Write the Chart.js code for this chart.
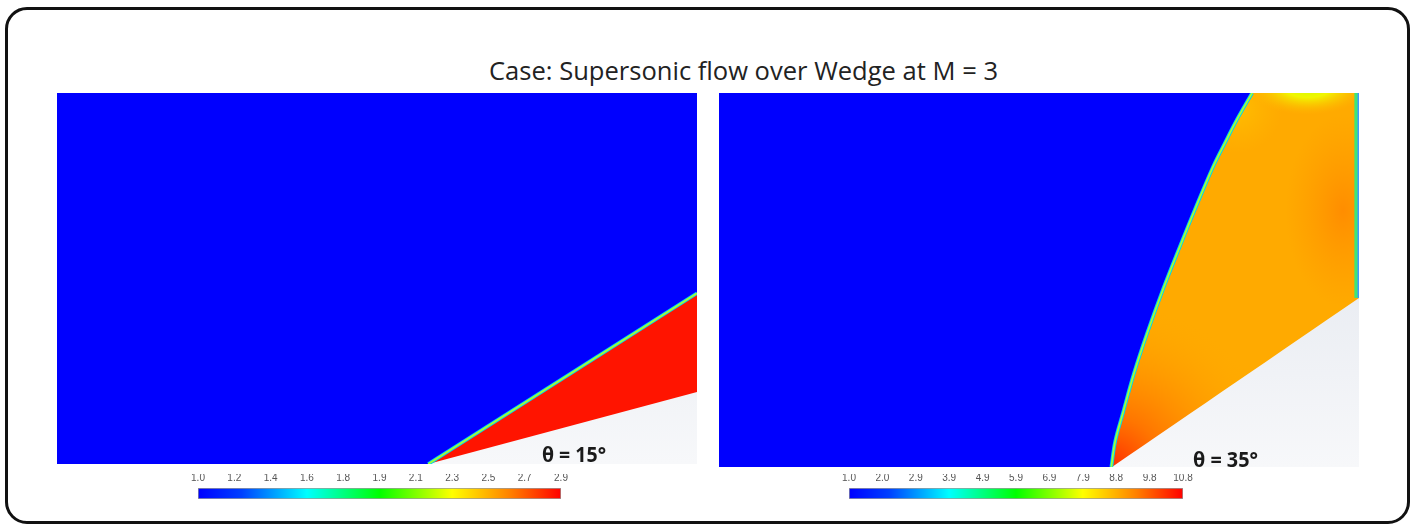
<!DOCTYPE html>
<html>
<head>
<meta charset="utf-8">
<title>Supersonic flow over Wedge at M = 3</title>
<script src="https://cdn.jsdelivr.net/npm/chart.js@4.4.1/dist/chart.umd.min.js"></script>
<style>
  body { margin: 0; background: #fff; }
  #page { position: relative; width: 1415px; height: 530px; overflow: hidden; }
  #frame { position: absolute; left: 5px; top: 7px; width: 1399px; height: 511px; border: 3px solid #111; border-radius: 22px; }
  #title { position: absolute; left: 489px; top: 52px; font: 26px 'Open Sans', sans-serif; color: #222; white-space: nowrap; transform-origin: 0 0; line-height: 36px; }
  .theta { position: absolute; font: bold 22px 'Open Sans', sans-serif; color: #1a1a1a; white-space: nowrap; transform-origin: 0 0; line-height: 24px; }
  canvas { position: absolute; }
</style>
</head>
<body>
<div id="page">
  <div id="frame"></div>
  <div id="title">Case: Supersonic flow over Wedge at M = 3</div>
  <canvas id="leftPanel" width="640" height="371" style="left:57px;top:93px"></canvas>
  <canvas id="rightPanel" width="640" height="374" style="left:719px;top:93px"></canvas>
  <canvas id="leftBar" width="391" height="50" style="left:184px;top:474px"></canvas>
  <canvas id="rightBar" width="362" height="50" style="left:835px;top:474px"></canvas>
  <div class="theta" id="thetaLeft" style="left:542px;top:441px">θ = 15°</div>
  <div class="theta" id="thetaRight" style="left:1193px;top:446px">θ = 35°</div>
</div>
<script>
// domain coordinates (x: 0..1 along the panel, y in the same units)
const leftTop = 0.58;
const leftWedge = [{x: 0.58, y: 0}, {x: 1, y: 0.1125}];
const leftShock = [{x: 0.58, y: 0}, {x: 1, y: 0.267}];

const rightTop = 0.584;
const rightWedge = [{x: 0.614, y: 0}, {x: 1, y: 0.264}];
const rightShock = [
  {x: 0.613, y: 0}, {x: 0.619, y: 0.04}, {x: 0.631, y: 0.084}, {x: 0.648, y: 0.145},
  {x: 0.669, y: 0.209}, {x: 0.694, y: 0.278}, {x: 0.720, y: 0.344}, {x: 0.746, y: 0.408},
  {x: 0.772, y: 0.469}, {x: 0.791, y: 0.507}, {x: 0.809, y: 0.542}, {x: 0.833, y: 0.584}
];
const rightOutlet = [{x: 0.9955, y: 0.264}, {x: 0.9955, y: 0.584}];

// colour bar tick labels
const leftLevels = ['1.0', '1.2', '1.4', '1.6', '1.8', '1.9', '2.1', '2.3', '2.5', '2.7', '2.9'];
const rightLevels = ['1.0', '2.0', '2.9', '3.9', '4.9', '5.9', '6.9', '7.9', '8.8', '9.8', '10.8'];

const BLUE = '#0000FE';
const jet = [[0, '#0000FF'], [0.12, '#0040FF'], [0.3, '#00FFFF'], [0.5, '#00FF00'], [0.7, '#FFFF00'], [0.86, '#FF8000'], [1, '#FF0000']];

function wedgeGray(ctx) {
  const area = ctx.chart.chartArea;
  if (!area) return '#EFF1F5';
  const g = ctx.chart.ctx.createLinearGradient(0, area.top + area.height * 0.5, 0, area.bottom);
  g.addColorStop(0, '#E9ECF2');
  g.addColorStop(1, '#F7F8FA');
  return g;
}

// shading of the region behind the detached shock
const glows = [
  {x: 0.614, y: 0, rx: 0.26, ry: 0.26, stops: [[0, 'rgba(255,45,0,1)'], [0.3, 'rgba(255,100,0,0.75)'], [1, 'rgba(255,170,0,0)']]},
  {x: 0.975, y: 0.40, rx: 0.09, ry: 0.15, stops: [[0, 'rgba(255,138,0,0.9)'], [1, 'rgba(255,150,0,0)']]},
  {x: 0.81, y: 0.56, rx: 0.07, ry: 0.07, stops: [[0, 'rgba(255,195,0,0.8)'], [1, 'rgba(255,185,0,0)']]},
  {x: 0.92, y: 0.595, rx: 0.095, ry: 0.045, stops: [[0, 'rgba(200,255,0,1)'], [0.4, 'rgba(240,250,0,0.95)'], [1, 'rgba(255,185,0,0)']]}
];
let rightPattern = null;
function postShockFill(ctx) {
  const chart = ctx.chart;
  if (!chart.chartArea) return '#FFAA00';
  if (rightPattern) return rightPattern;
  const sx = chart.scales.x, sy = chart.scales.y;
  const off = document.createElement('canvas');
  off.width = chart.width; off.height = chart.height;
  const g = off.getContext('2d');
  g.fillStyle = '#FFAA00';
  g.fillRect(0, 0, off.width, off.height);
  const unit = sx.getPixelForValue(1) - sx.getPixelForValue(0);
  glows.forEach(s => {
    g.save();
    g.translate(sx.getPixelForValue(s.x), sy.getPixelForValue(s.y));
    g.scale(s.rx / s.ry, 1);
    const r = g.createRadialGradient(0, 0, 0, 0, 0, s.ry * unit);
    s.stops.forEach(([o, c]) => r.addColorStop(o, c));
    g.fillStyle = r;
    g.fillRect(-2000, -2000, 4000, 4000);
    g.restore();
  });
  rightPattern = chart.ctx.createPattern(off, 'no-repeat');
  return rightPattern;
}

function panel(id, top, wedge, shock, flowFill, extra) {
  const base = {showLine: true, pointRadius: 0, borderWidth: 1, borderColor: 'transparent', fill: false,
    tension: shock.length > 2 ? 0.35 : 0};
  // free stream: everything upstream of the shock, from the inlet along the floor to the shock foot
  const upstream = [{x: 0, y: 0}, {x: shock[0].x - 0.001, y: 0}].concat(shock);
  const datasets = [
    {...base, data: [{x: 0, y: top}, {x: 1, y: top}], fill: 'start', backgroundColor: flowFill, order: 10},
    {...base, data: upstream, fill: 'end', backgroundColor: BLUE, order: 8},
    {...base, data: wedge, fill: 'start', backgroundColor: wedgeGray, order: 6},
    {...base, data: shock, borderWidth: 3.6, borderColor: '#00D4F0', order: 4},
    {...base, data: shock, borderWidth: 1.7, borderColor: '#A8FF30', order: 3}
  ].concat(extra || []);
  return new Chart(document.getElementById(id), {
    type: 'scatter',
    data: {datasets},
    options: {
      responsive: false, animation: false, events: [],
      layout: {padding: 0},
      plugins: {legend: {display: false}, tooltip: {enabled: false}},
      scales: {
        x: {type: 'linear', min: 0, max: 1, display: false},
        y: {type: 'linear', min: 0, max: top, display: false}
      }
    }
  });
}

function jetFill(ctx) {
  const area = ctx.chart.chartArea;
  if (!area) return BLUE;
  const g = ctx.chart.ctx.createLinearGradient(area.left, 0, area.right, 0);
  jet.forEach(([o, c]) => g.addColorStop(o, c));
  return g;
}

function colorbar(id, levels, pad) {
  return new Chart(document.getElementById(id), {
    type: 'bar',
    data: {labels: [''], datasets: [{data: [levels.length - 1], backgroundColor: jetFill,
      borderColor: 'rgba(110,110,110,0.7)', borderWidth: 1, borderSkipped: false,
      barPercentage: 1, categoryPercentage: 1}]},
    options: {
      indexAxis: 'y', responsive: false, animation: false, events: [],
      layout: {padding: {left: pad, right: pad, top: 0, bottom: 25}},
      plugins: {legend: {display: false}, tooltip: {enabled: false}},
      scales: {
        x: {position: 'top', min: 0, max: levels.length - 1,
          grid: {display: false, drawTicks: false}, border: {display: false},
          afterFit: s => { s.height = 14; },
          ticks: {stepSize: 1, autoSkip: false, maxRotation: 0, padding: 4, color: '#555',
            font: {family: 'Liberation Sans', size: 10}, callback: v => levels[v]}},
        y: {display: false}
      }
    }
  });
}

panel('leftPanel', leftTop, leftWedge, leftShock, '#FF1400');
panel('rightPanel', rightTop, rightWedge, rightShock, postShockFill, [
  {showLine: true, pointRadius: 0, fill: false, data: rightOutlet, borderWidth: 3.5, borderColor: '#3CE67A', order: 2},
  {showLine: true, pointRadius: 0, fill: false, data: rightOutlet.map(p => ({x: 1, y: p.y})), borderWidth: 3, borderColor: '#3A9CFF', order: 1}
]);
colorbar('leftBar', leftLevels, 14);
colorbar('rightBar', rightLevels, 14);

// squeeze the text to the width it takes in the original slide
function fit(id, width) {
  const el = document.getElementById(id);
  el.style.transform = 'scaleX(' + (width / el.getBoundingClientRect().width) + ')';
}
fit('title', 509);
fit('thetaLeft', 64);
fit('thetaRight', 65);
</script>
</body>
</html>
